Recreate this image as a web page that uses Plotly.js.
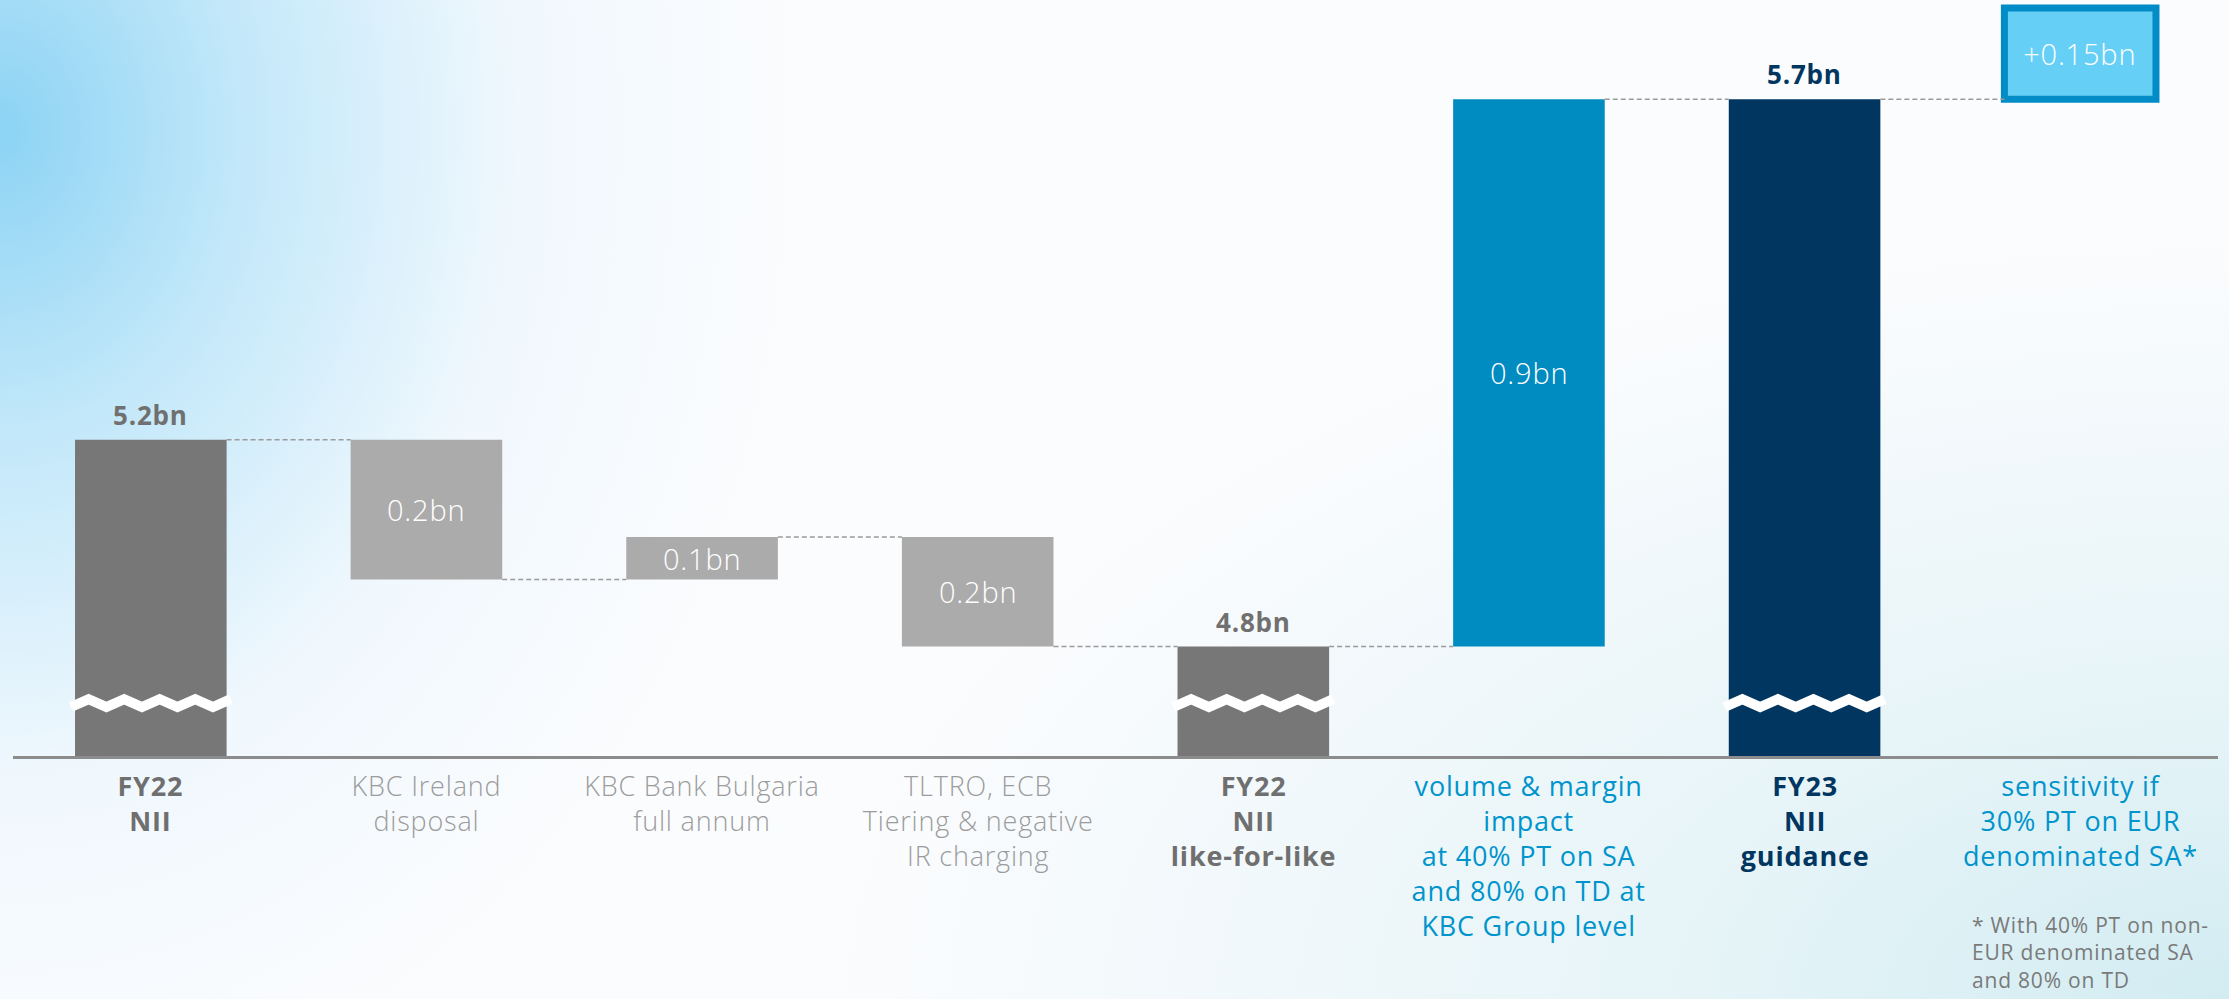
<!DOCTYPE html>
<html>
<head>
<meta charset="utf-8">
<script src="https://cdn.plot.ly/plotly-3.0.1.min.js"></script>
<style>
  html, body { margin: 0; padding: 0; width: 2229px; height: 999px; overflow: hidden; }
  body {
    background:
      radial-gradient(ellipse 800px 1000px at 0px 130px, rgba(140,211,244,1) 0%, rgba(175,225,248,0.75) 30%, rgba(220,240,252,0.35) 65%, rgba(255,255,255,0) 100%),
      radial-gradient(ellipse 1400px 760px at 2229px 999px, rgba(210,236,242,1) 0%, rgba(222,241,245,0.7) 40%, rgba(255,255,255,0) 100%),
      #fbfcfe;
  }
  #chart { width: 2229px; height: 999px; }
  #chart .annotation-text { letter-spacing: 0.8px; }
</style>
</head>
<body>
<div id="chart"></div>
<script>
// ---- data (values in EUR bn; axis is broken near the bottom) ----
const categories = [
  'FY22<br>NII',
  'KBC Ireland<br>disposal',
  'KBC Bank Bulgaria<br>full annum',
  'TLTRO, ECB<br>Tiering & negative<br>IR charging',
  'FY22<br>NII<br>like-for-like',
  'volume & margin<br>impact<br>at 40% PT on SA<br>and 80% on TD at<br>KBC Group level',
  'FY23<br>NII<br>guidance',
  'sensitivity if<br>30% PT on EUR<br>denominated SA*'
];
const measures = ['absolute', 'relative', 'relative', 'relative', 'total', 'relative', 'total', 'relative'];
const values = [5.16, -0.23, 0.07, -0.18, null, 0.90, null, 0.15];
const valueLabels = ['5.2bn', '0.2bn', '0.1bn', '0.2bn', '4.8bn', '0.9bn', '5.7bn', '+0.15bn'];
const axisFloor = 4.64;      // value at the (broken) baseline
const axisTop = 5.883;
const breakLevel = 4.727;    // where the break symbol is drawn
const footnote = '* With 40% PT on non-<br>EUR denominated SA<br>and 80% on TD';

// ---- styles ----
const barFill = ['#777777', '#ababab', '#ababab', '#ababab', '#777777', '#008bc1', '#00365f', '#66cff5'];
const barEdge = ['rgba(0,0,0,0)', 'rgba(0,0,0,0)', 'rgba(0,0,0,0)', 'rgba(0,0,0,0)', 'rgba(0,0,0,0)', 'rgba(0,0,0,0)', 'rgba(0,0,0,0)', '#008cc6'];
const edgeWidth = [0, 0, 0, 0, 0, 0, 0, 7];
const catColor = ['#6f6f6f', '#9c9c9c', '#9c9c9c', '#9c9c9c', '#6f6f6f', '#0094cc', '#00365f', '#0094cc'];
const catWeight = [700, 300, 300, 300, 700, 400, 700, 400];
const topLabelColor = ['#707070', null, null, null, '#707070', null, '#00365f', null];
const FONT = '"Open Sans", Lato, sans-serif';
const BARW = 0.55;

// ---- build waterfall geometry from the values ----
const xs = categories.map((_, i) => i);
const bases = [], heights = [], levels = [];
let running = 0;
measures.forEach((m, i) => {
  if (m === 'absolute') {
    running = values[i];
    bases.push(axisFloor); heights.push(running - axisFloor);
  } else if (m === 'total') {
    bases.push(axisFloor); heights.push(running - axisFloor);
  } else {
    const next = running + values[i];
    bases.push(Math.min(running, next)); heights.push(Math.abs(values[i]));
    running = next;
  }
  levels.push(running);
});

const traces = [];

// bars
traces.push({
  type: 'bar', x: xs, y: heights, base: bases, width: BARW,
  marker: { color: barFill, line: { color: barEdge, width: edgeWidth }, cornerradius: 0 },
  hoverinfo: 'skip', showlegend: false
});

// dashed connectors
const cx = [], cy = [];
for (let i = 0; i < xs.length - 1; i++) {
  cx.push(xs[i] + BARW / 2, xs[i + 1] - BARW / 2, null);
  cy.push(levels[i], levels[i], null);
}
traces.push({
  type: 'scatter', mode: 'lines', x: cx, y: cy,
  line: { color: '#9a9a9a', width: 1.5, dash: '5px,3px' },
  hoverinfo: 'skip', showlegend: false
});

// break symbols on the totals
measures.forEach((m, i) => {
  if (m === 'relative') return;
  const zx = [], zy = [];
  const n = 9;
  const half = 0.29;
  for (let k = 0; k <= n; k++) {
    zx.push(xs[i] - half + (2 * half) * k / n);
    zy.push(breakLevel + (k % 2 === 0 ? -0.0065 : 0.0065));
  }
  traces.push({
    type: 'scatter', mode: 'lines', x: zx, y: zy,
    line: { color: '#ffffff', width: 10, shape: 'linear' },
    hoverinfo: 'skip', showlegend: false
  });
});

// annotations
const annotations = [];
xs.forEach((x, i) => {
  if (measures[i] === 'relative') {
    annotations.push({
      x: x, y: bases[i] + heights[i] / 2, xref: 'x', yref: 'y',
      text: valueLabels[i], showarrow: false, xanchor: 'center', yanchor: 'middle',
      font: { family: FONT, size: 29, color: '#ffffff', weight: 300 }
    });
  } else {
    annotations.push({
      x: x, y: bases[i] + heights[i], xref: 'x', yref: 'y',
      text: valueLabels[i], showarrow: false, xanchor: 'center', yanchor: 'bottom', yshift: 5,
      font: { family: FONT, size: 26, color: topLabelColor[i], weight: 700 }
    });
  }
  annotations.push({
    x: x, y: 0, xref: 'x', yref: 'paper',
    text: categories[i], showarrow: false, xanchor: 'center', yanchor: 'top', yshift: -9,
    align: 'center',
    font: { family: FONT, size: 27, color: catColor[i], weight: catWeight[i] }
  });
});
annotations.push({
  x: 6.6, y: 0, xref: 'x', yref: 'paper',
  text: footnote, showarrow: false, xanchor: 'left', yanchor: 'top', yshift: -153,
  align: 'left',
  font: { family: FONT, size: 21, color: '#7a7a7a', weight: 400 }
});

const layout = {
  width: 2229, height: 999,
  margin: { l: 13, r: 11, t: 0, b: 243, pad: 0 },
  paper_bgcolor: 'rgba(0,0,0,0)', plot_bgcolor: 'rgba(0,0,0,0)',
  barmode: 'overlay',
  showlegend: false,
  xaxis: {
    range: [-0.5, 7.5], showgrid: false, zeroline: false, showticklabels: false, ticks: '',
    showline: true, linecolor: '#8c8c8c', linewidth: 3, fixedrange: true
  },
  yaxis: { range: [axisFloor, axisTop], visible: false, fixedrange: true },
  annotations: annotations
};

Plotly.newPlot('chart', traces, layout, { staticPlot: true, displayModeBar: false });
</script>
</body>
</html>
